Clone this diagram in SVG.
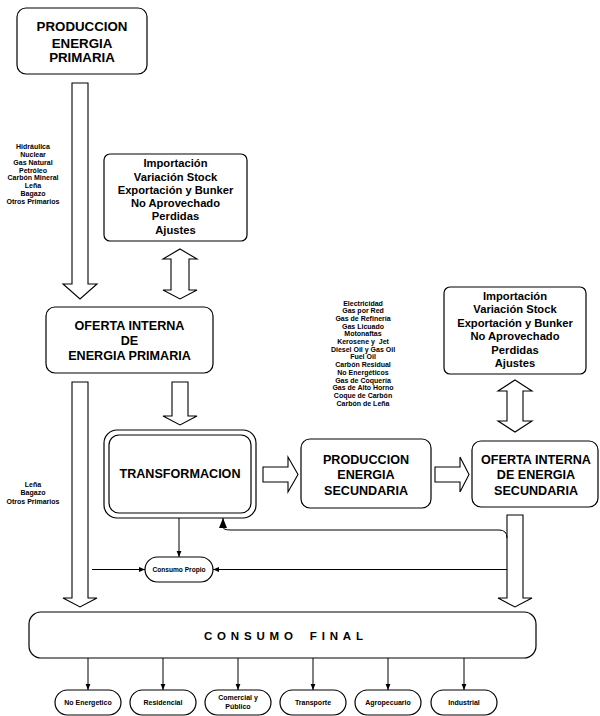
<svg xmlns="http://www.w3.org/2000/svg" width="600" height="716" viewBox="0 0 600 716">
<style>
.box{fill:#fff;stroke:#000;stroke-width:1.2}
.blk{fill:#fff;stroke:#000;stroke-width:1.1;stroke-linejoin:miter}
.ln{fill:none;stroke:#000;stroke-width:1}
.t{font-family:"Liberation Sans",Arial,sans-serif;font-weight:bold;fill:#000;text-anchor:middle}
.big{font-size:12.6px}
.top{font-size:13.3px}
.mid{font-size:11.2px}
.sm{font-size:7px}
.xs{font-size:6.6px}
</style>
<defs>
<marker id="ah" markerUnits="userSpaceOnUse" markerWidth="6" markerHeight="6" viewBox="0 0 6 6" refX="6" refY="3" orient="auto">
<path d="M0,0.6 L6,3 L0,5.4 z" fill="#000"/>
</marker>
<marker id="ahb" markerUnits="userSpaceOnUse" markerWidth="10" markerHeight="8" viewBox="0 0 10 8" refX="10" refY="4" orient="auto">
<path d="M0,0 L10,4 L0,8 z" fill="#000"/>
</marker>
</defs>
<rect width="600" height="716" fill="#fff"/>

<g id="connectors">
<polygon class="blk" points="72,83 88,83 88,284 97,284 80,299 63,284 72,284"/>
<polygon class="blk" points="180,249 197,259 189,259 189,290 197,290 180,299 163,290 171,290 171,259 163,259"/>
<polygon class="blk" points="172,382 188,382 188,416 197,416 180,425 163,416 172,416"/>
<polygon class="blk" points="72,382 88,382 88,598 97,598 80,607 63,598 72,598"/>
<polygon class="blk" points="507,515 523,515 523,598 532,598 515,607 498,598 507,598"/>
<polygon class="blk" points="515,380 532,391 523,391 523,421 532,421 515,432 498,421 507,421 507,391 498,391"/>
<polygon class="blk" points="263,467 288,467 288,457 298,474.5 288,492 288,482 263,482"/>
<polygon class="blk" points="435,467 460,467 460,457 469,474.5 460,492 460,482 435,482"/>
<path class="ln" d="M179,518 L179,557" marker-end="url(#ah)"/>
<path class="ln" d="M92,569.5 L145,569.5" marker-end="url(#ah)"/>
<path class="ln" d="M507,569.5 L213,569.5" marker-end="url(#ah)"/>
<path class="ln" d="M507,538 Q507,530 499,530 L231,530 Q223,530 223,527 L223,518" marker-end="url(#ahb)"/>
<path class="ln" d="M88,658 L88,690" marker-end="url(#ah)"/>
<path class="ln" d="M163,658 L163,690" marker-end="url(#ah)"/>
<path class="ln" d="M238,658 L238,690" marker-end="url(#ah)"/>
<path class="ln" d="M313,658 L313,690" marker-end="url(#ah)"/>
<path class="ln" d="M388,658 L388,690" marker-end="url(#ah)"/>
<path class="ln" d="M464,658 L464,690" marker-end="url(#ah)"/>
</g>

<g id="lbl-primarios">
<text class="t sm" x="33" y="149">Hidráulica</text>
<text class="t sm" x="33" y="156.9">Nuclear</text>
<text class="t sm" x="33" y="164.7">Gas Natural</text>
<text class="t sm" x="33" y="172.6">Petróleo</text>
<text class="t sm" x="33" y="180.4">Carbón Mineral</text>
<text class="t sm" x="33" y="188.3">Leña</text>
<text class="t sm" x="33" y="196.1">Bagazo</text>
<text class="t sm" x="33" y="204">Otros Primarios</text>
</g>

<g id="lbl-directos">
<text class="t sm" x="33" y="486.5">Leña</text>
<text class="t sm" x="33" y="495.3">Bagazo</text>
<text class="t sm" x="33" y="504.1">Otros Primarios</text>
</g>

<g id="lbl-secundarios">
<text class="t sm" x="363" y="305.5">Electricidad</text>
<text class="t sm" x="363" y="313.2">Gas por Red</text>
<text class="t sm" x="363" y="320.9">Gas de Refinería</text>
<text class="t sm" x="363" y="328.6">Gas Licuado</text>
<text class="t sm" x="363" y="336.3">Motonaftas</text>
<text class="t sm" x="363" y="344" xml:space="preserve">Kerosene y  Jet</text>
<text class="t sm" x="363" y="351.7">Diesel Oil y Gas Oil</text>
<text class="t sm" x="363" y="359.4">Fuel Oil</text>
<text class="t sm" x="363" y="367.1">Carbón Residual</text>
<text class="t sm" x="363" y="374.8">No Energéticos</text>
<text class="t sm" x="363" y="382.5">Gas de Coquería</text>
<text class="t sm" x="363" y="390.2">Gas de Alto Horno</text>
<text class="t sm" x="363" y="397.9">Coque de Carbón</text>
<text class="t sm" x="363" y="405.6">Carbón de Leña</text>
</g>

<g id="produccion-primaria">
<rect class="box" x="17" y="8" width="130" height="66" rx="9"/>
<text class="t top" x="82" y="31">PRODUCCION</text>
<text class="t top" x="82" y="47.5">ENERGIA</text>
<text class="t top" x="82" y="62">PRIMARIA</text>
</g>

<g id="ajustes-primaria">
<rect class="box" x="104" y="154" width="143" height="87" rx="6"/>
<text class="t mid" x="175.5" y="167.3">Importación</text>
<text class="t mid" x="175.5" y="180.5">Variación Stock</text>
<text class="t mid" x="175.5" y="193.8">Exportación y Bunker</text>
<text class="t mid" x="175.5" y="207">No Aprovechado</text>
<text class="t mid" x="175.5" y="220.3">Perdidas</text>
<text class="t mid" x="175.5" y="233.5">Ajustes</text>
</g>

<g id="oferta-primaria">
<rect class="box" x="46" y="307" width="167" height="66" rx="9"/>
<text class="t big" x="129.5" y="329.5">OFERTA INTERNA</text>
<text class="t big" x="129.5" y="344.5">DE</text>
<text class="t big" x="129.5" y="360">ENERGIA PRIMARIA</text>
</g>

<g id="transformacion">
<rect class="box" x="104" y="430" width="152" height="88" rx="13"/>
<rect class="box" x="109" y="435" width="142" height="78" rx="10"/>
<text class="t big" x="180" y="478">TRANSFORMACION</text>
</g>

<g id="produccion-secundaria">
<rect class="box" x="301" y="439" width="130" height="69" rx="9"/>
<text class="t big" x="366" y="463.5">PRODUCCION</text>
<text class="t big" x="366" y="479">ENERGIA</text>
<text class="t big" x="366" y="495">SECUNDARIA</text>
</g>

<g id="ajustes-secundaria">
<rect class="box" x="444" y="287" width="142" height="87" rx="6"/>
<text class="t mid" x="515" y="299.5">Importación</text>
<text class="t mid" x="515" y="313">Variación Stock</text>
<text class="t mid" x="515" y="326.5">Exportación y Bunker</text>
<text class="t mid" x="515" y="340">No Aprovechado</text>
<text class="t mid" x="515" y="353.5">Perdidas</text>
<text class="t mid" x="515" y="367">Ajustes</text>
</g>

<g id="oferta-secundaria">
<rect class="box" x="472" y="441" width="126" height="66" rx="9"/>
<text class="t big" x="536" y="463.5">OFERTA INTERNA</text>
<text class="t big" x="536" y="478.5">DE ENERGIA</text>
<text class="t big" x="536" y="494.5">SECUNDARIA</text>
</g>

<g id="consumo-propio">
<rect class="box" x="145" y="557" width="68" height="25" rx="12.5"/>
<text class="t xs" x="179" y="572">Consumo Propio</text>
</g>

<g id="consumo-final">
<rect class="box" x="29" y="612" width="507" height="46" rx="12"/>
<text class="t" x="204" y="640" style="font-size:11.5px;text-anchor:start;letter-spacing:4.8px;word-spacing:4.2px">CONSUMO FINAL</text>
</g>

<g id="no-energetico">
<rect class="box" x="55" y="690" width="66" height="25" rx="12.5"/>
<text class="t sm" x="88" y="705">No Energetico</text>
</g>
<g id="residencial">
<rect class="box" x="130" y="690" width="66" height="25" rx="12.5"/>
<text class="t sm" x="163" y="705">Residencial</text>
</g>
<g id="comercial">
<rect class="box" x="205" y="690" width="66" height="25" rx="12.5"/>
<text class="t sm" x="238" y="700">Comercial y</text>
<text class="t sm" x="238" y="709">Público</text>
</g>
<g id="transporte">
<rect class="box" x="280" y="690" width="66" height="25" rx="12.5"/>
<text class="t sm" x="313" y="705">Transporte</text>
</g>
<g id="agropecuario">
<rect class="box" x="355" y="690" width="66" height="25" rx="12.5"/>
<text class="t sm" x="388" y="705">Agropecuario</text>
</g>
<g id="industrial">
<rect class="box" x="431" y="690" width="66" height="25" rx="12.5"/>
<text class="t sm" x="464" y="705">Industrial</text>
</g>
</svg>
